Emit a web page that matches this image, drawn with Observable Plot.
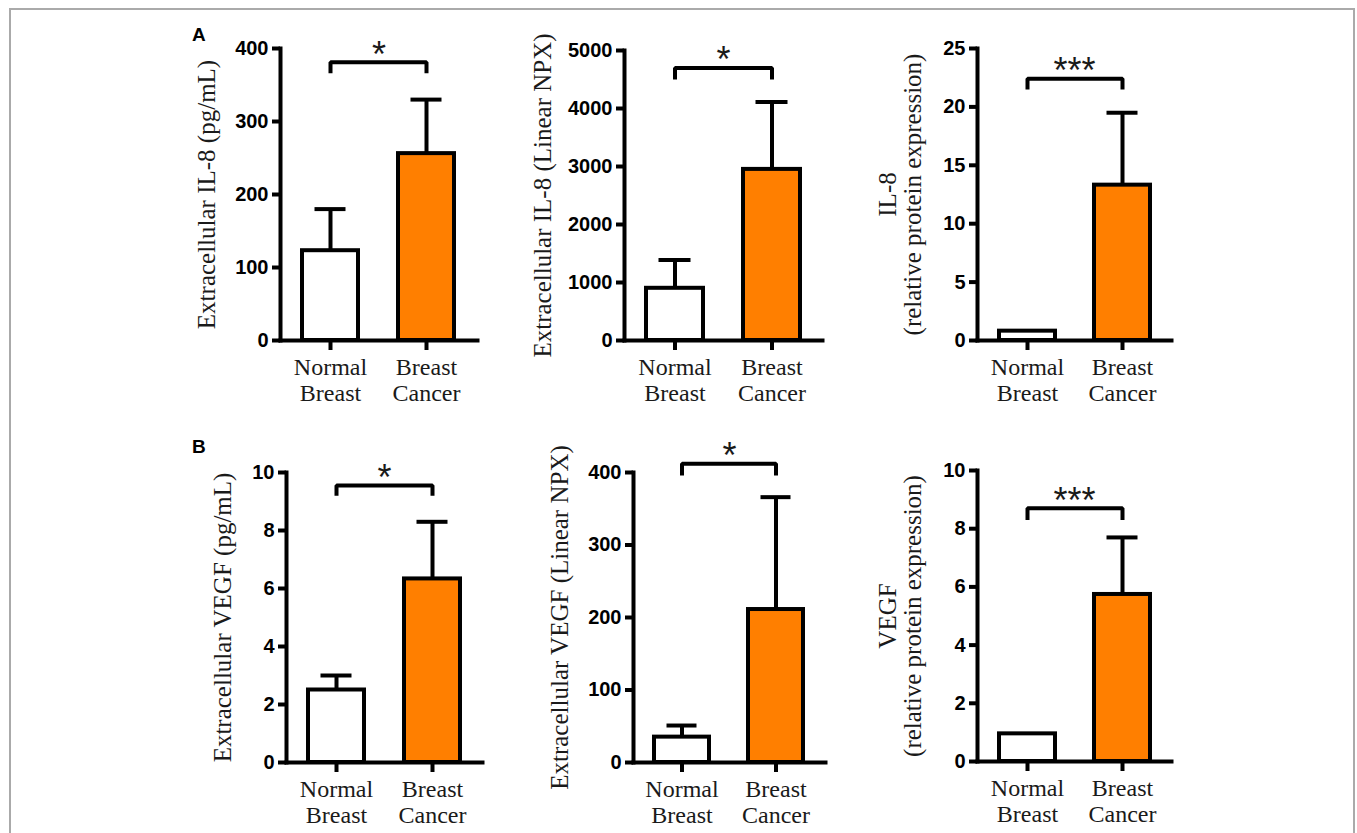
<!DOCTYPE html>
<html>
<head>
<meta charset="utf-8">
<script src="https://cdn.jsdelivr.net/npm/d3@7"></script>
<script src="https://cdn.jsdelivr.net/npm/@observablehq/plot@0.6"></script>
<style>
  html, body { margin: 0; padding: 0; background: #fff; overflow: hidden; }
  #root { position: relative; width: 1357px; height: 833px; background: #fff; overflow: hidden; }
  #border { position: absolute; left: 9px; top: 8px; width: 1346px; height: 900px; box-sizing: border-box; border: 2px solid #aaaaaa; }
  .letter { position: absolute; font-family: "Liberation Sans", Arial, sans-serif; font-weight: bold; font-size: 19px; line-height: 19px; color: #000; }
  #root svg { position: absolute; }
</style>
</head>
<body>
<div id="root"><div id="border"></div></div>
<script>
// ---------- data ----------
const categories = ["Normal Breast", "Breast Cancer"];
const barFills = ["#ffffff", "#ff7f00"];
const panelLetters = ["A", "B"];
const yLabels = [
  "Extracellular IL-8 (pg/mL)",
  "Extracellular IL-8 (Linear NPX)",
  "IL-8\n(relative protein expression)",
  "Extracellular VEGF (pg/mL)",
  "Extracellular VEGF (Linear NPX)",
  "VEGF\n(relative protein expression)"
];
const means = [
  [123, 256],
  [900, 2950],
  [0.8, 13.3],
  [2.5, 6.33],
  [35, 211],
  [0.95, 5.74]
];
const errorTops = [
  [180, 330],
  [1390, 4110],
  [null, 19.5],
  [3.0, 8.3],
  [51, 366],
  [null, 7.7]
];
const yMax = [400, 5000, 25, 10, 400, 10];
const yTicks = [
  [0, 100, 200, 300, 400],
  [0, 1000, 2000, 3000, 4000, 5000],
  [0, 5, 10, 15, 20, 25],
  [0, 2, 4, 6, 8, 10],
  [0, 100, 200, 300, 400],
  [0, 2, 4, 6, 8, 10]
];
const sigLabels = ["*", "*", "***", "*", "*", "***"];
const bracketTop = [381, 4700, 22.4, 9.55, 412, 8.7];
const bracketLeg = [366, 4500, 21.5, 9.2, 396, 8.3];

// ---------- layout (pixels) ----------
const layout = [
  {left: 280, right: 477, top: 48, base: 340, labelDx: -74},
  {left: 624, right: 822, top: 50, base: 340, labelDx: -82},
  {left: 977, right: 1171, top: 48, base: 340, labelDx: -77},
  {left: 286, right: 482, top: 472, base: 762, labelDx: -64},
  {left: 633, right: 825, top: 472, base: 762, labelDx: -74},
  {left: 977, right: 1171, top: 470, base: 761, labelDx: -77}
];
const letterPos = [{x: 192, y: 25}, {x: 192, y: 437}];

const sans = "'Liberation Sans', Arial, Helvetica, sans-serif";
const serif = "'Liberation Serif', 'Times New Roman', Times, serif";
const mL = 120, mR = 14, mT = 44, mB = 82;

const root = document.getElementById("root");

panelLetters.forEach((t, k) => {
  const d = document.createElement("div");
  d.className = "letter";
  d.textContent = t;
  d.style.left = letterPos[k].x + "px";
  d.style.top = letterPos[k].y + "px";
  root.appendChild(d);
});

function panel(i) {
  const L = layout[i];
  const frameW = L.right - L.left;
  const frameH = L.base - L.top;
  const rows = categories.map((c, j) => ({cat: c, mean: means[i][j], hi: errorTops[i][j], fill: barFills[j]}));
  const errRows = rows.filter(r => r.hi != null);
  const bracket = [
    {cat: categories[0], y: bracketLeg[i]},
    {cat: categories[0], y: bracketTop[i]},
    {cat: categories[1], y: bracketTop[i]},
    {cat: categories[1], y: bracketLeg[i]}
  ];
  const svg = Plot.plot({
    width: mL + frameW + mR,
    height: mT + frameH + mB,
    marginLeft: mL, marginRight: mR, marginTop: mT, marginBottom: mB,
    x: {type: "band", domain: categories, paddingInner: 0.412, paddingOuter: 0.2215},
    y: {domain: [0, yMax[i]]},
    color: {type: "identity"},
    style: {background: "transparent", color: "#000", overflow: "visible"},
    marks: [
      Plot.ruleX(errRows, {x: "cat", y1: "mean", y2: "hi", stroke: "#000", strokeWidth: 4}),
      Plot.tickY(errRows, {x: "cat", y: "hi", stroke: "#000", strokeWidth: 4, insetLeft: 12.5, insetRight: 12.5}),
      Plot.barY(rows, {x: "cat", y: "mean", fill: "fill", stroke: "#000", strokeWidth: 4}),
      Plot.frame({anchor: "left", stroke: "#000", strokeWidth: 4}),
      Plot.frame({anchor: "bottom", stroke: "#000", strokeWidth: 4}),
      Plot.axisY({ticks: yTicks[i], tickSize: 8, tickPadding: 4, strokeWidth: 4, fontSize: 20, fontWeight: "bold", fontFamily: sans, label: null, tickFormat: d => String(d)}),
      Plot.axisX({tickSize: 10, tickPadding: 5, strokeWidth: 4, fontSize: 24, fontFamily: serif, lineHeight: 1.12, fill: "#1a1a1a", label: null, tickFormat: d => d.replace(" ", "\n")}),
      Plot.line(bracket, {x: "cat", y: "y", stroke: "#000", strokeWidth: 4, strokeLinejoin: "miter", strokeLinecap: "butt"}),
      Plot.text([sigLabels[i]], {text: d => d, y: () => bracketTop[i], frameAnchor: "middle", textAnchor: "middle", lineAnchor: "middle", dy: -7, fontSize: 36, fontFamily: sans, fill: "#1a1a1a"}),
      Plot.text([yLabels[i]], {text: d => d, frameAnchor: "left", rotate: -90, textAnchor: "middle", lineAnchor: "middle", dx: L.labelDx, fontSize: 25, fontFamily: serif, lineHeight: 1.02, fill: "#1a1a1a"})
    ]
  });
  svg.style.left = (L.left - mL) + "px";
  svg.style.top = (L.top - mT) + "px";
  root.appendChild(svg);
}

for (let i = 0; i < 6; i++) panel(i);
</script>
</body>
</html>
